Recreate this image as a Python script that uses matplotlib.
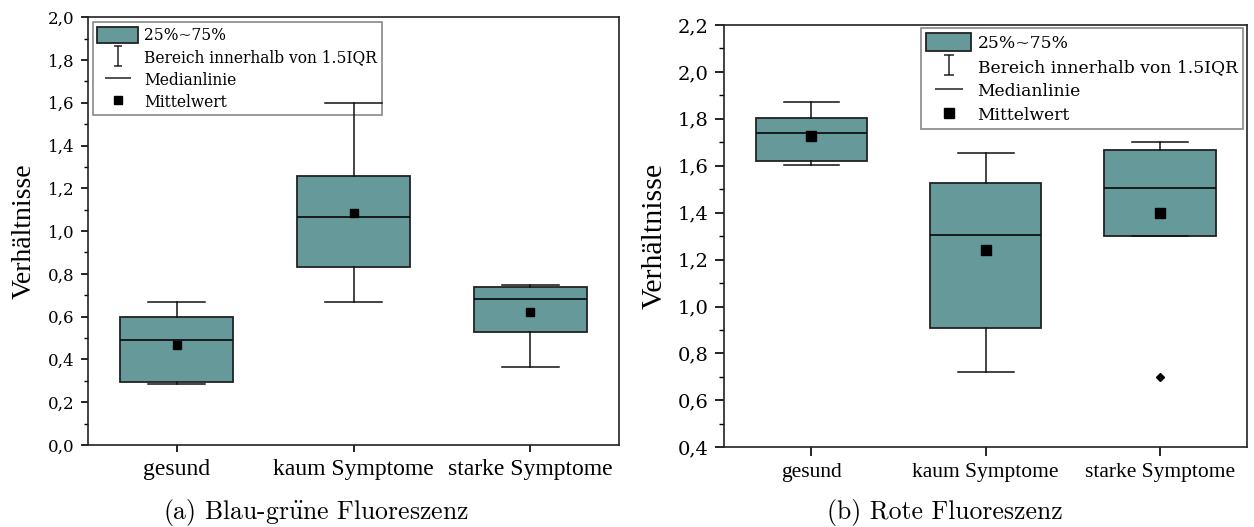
import numpy as np
import matplotlib
matplotlib.use('Agg')
import matplotlib.pyplot as plt
from matplotlib.patches import Patch
from matplotlib.lines import Line2D
from matplotlib.path import Path
from matplotlib.ticker import MultipleLocator, FuncFormatter

plt.rcParams['mathtext.fontset'] = 'cm'

categories = ['gesund', 'kaum Symptome', 'starke Symptome']

# (a) Blau-grüne Fluoreszenz
a_q1 = [0.293, 0.833, 0.528]
a_med = [0.492, 1.067, 0.681]
a_q3 = [0.597, 1.256, 0.740]
a_lo = [0.284, 0.668, 0.363]
a_hi = [0.667, 1.600, 0.746]
a_mean = [0.469, 1.083, 0.623]
a_out = [[], [], []]

# (b) Rote Fluoreszenz
b_q1 = [1.621, 0.909, 1.302]
b_med = [1.739, 1.305, 1.506]
b_q3 = [1.802, 1.527, 1.668]
b_lo = [1.603, 0.723, 1.302]
b_hi = [1.870, 1.655, 1.700]
b_mean = [1.728, 1.239, 1.397]
b_out = [[], [], [0.699]]

box_color = '#669999'
tick_font = 'DejaVu Serif'
label_font = 'Liberation Serif'
cap_font = ['cmr10', 'DejaVu Serif']

# legend symbols drawn as open marker paths
I_MARK = Path([(0, -1), (0, 1), (-0.45, 1), (0.45, 1), (-0.45, -1), (0.45, -1)],
              [Path.MOVETO, Path.LINETO, Path.MOVETO, Path.LINETO, Path.MOVETO, Path.LINETO])
DASH_MARK = Path([(-1, 0), (1, 0)], [Path.MOVETO, Path.LINETO])


def make_stats(q1, med, q3, lo, hi, mean, out):
    stats = []
    for i in range(len(q1)):
        stats.append(dict(q1=q1[i], med=med[i], q3=q3[i], whislo=lo[i],
                          whishi=hi[i], mean=mean[i], fliers=np.array(out[i])))
    return stats


def draw_panel(ax, stats, ylim, tick_fs, cat_fs, ylab_fs, leg_fs, msize,
               ticklen, legend_anchor, legend_loc, ylab_x, sym):
    ax.bxp(stats, positions=[1, 2, 3], widths=0.64, capwidths=0.32,
           patch_artist=True, showmeans=True,
           boxprops=dict(facecolor=box_color, edgecolor='#222222', linewidth=1.3),
           medianprops=dict(color='#111111', linewidth=1.3),
           whiskerprops=dict(color='#111111', linewidth=1.1),
           capprops=dict(color='#111111', linewidth=1.1),
           meanprops=dict(marker='s', markerfacecolor='black', markeredgecolor='black',
                          markersize=msize),
           flierprops=dict(marker='D', markerfacecolor='black', markeredgecolor='black',
                           markersize=4))
    ax.set_xlim(0.5, 3.5)
    ax.set_ylim(*ylim)
    ax.set_xticks([1, 2, 3])
    ax.set_xticklabels(categories, fontsize=cat_fs, family=label_font)
    ax.yaxis.set_major_locator(MultipleLocator(0.2))
    ax.yaxis.set_minor_locator(MultipleLocator(0.1))
    ax.yaxis.set_major_formatter(FuncFormatter(lambda v, p: f'{v:.1f}'.replace('.', ',')))
    for lab in ax.get_yticklabels():
        lab.set_family(tick_font)
        lab.set_fontsize(tick_fs)
    ax.tick_params(axis='both', which='major', direction='out', length=ticklen,
                   width=1.2, pad=5)
    ax.tick_params(axis='y', which='minor', direction='out', length=ticklen * 0.55,
                   width=1.0)
    ax.tick_params(axis='x', which='minor', bottom=False)
    for s in ax.spines.values():
        s.set_linewidth(1.2)
        s.set_color('#222222')
    ax.set_ylabel('Verhältnisse', fontsize=ylab_fs, family=label_font)
    ax.yaxis.set_label_coords(ylab_x, 0.5)

    handles = [Patch(facecolor=box_color, edgecolor='#222222', linewidth=1.3),
               Line2D([], [], ls='none', marker=I_MARK, markersize=sym,
                      markerfacecolor='none', markeredgecolor='#222222', markeredgewidth=1.1),
               Line2D([], [], ls='none', marker=DASH_MARK, markersize=sym * 1.3,
                      markerfacecolor='none', markeredgecolor='#222222', markeredgewidth=1.1),
               Line2D([], [], ls='none', marker='s', color='black', markersize=msize)]
    labels = ['25%~75%', 'Bereich innerhalb von 1.5IQR', 'Medianlinie', 'Mittelwert']
    leg = ax.legend(handles, labels, loc=legend_loc, bbox_to_anchor=legend_anchor,
                    borderaxespad=0, fancybox=False, framealpha=1,
                    edgecolor='#888888', handlelength=2.6, handleheight=1.2,
                    handletextpad=0.4, labelspacing=0.32, borderpad=0.3,
                    prop=dict(family=tick_font, size=leg_fs))
    leg.get_frame().set_linewidth(1.2)
    leg.set_zorder(1)  # boxes and whiskers stay on top of the legend


fig = plt.figure(figsize=(12.54, 5.27), dpi=100)

ax1 = fig.add_axes([0.0702, 0.1556, 0.4234, 0.8118])
draw_panel(ax1, make_stats(a_q1, a_med, a_q3, a_lo, a_hi, a_mean, a_out),
           (0.0, 2.0), 12, 17, 20, 11.2, 5.5, 5, (0.009, 0.988), 'upper left', -0.096, 14)

ax2 = fig.add_axes([0.5776, 0.1512, 0.4168, 0.8014])
draw_panel(ax2, make_stats(b_q1, b_med, b_q3, b_lo, b_hi, b_mean, b_out),
           (0.4, 2.2), 14, 15.5, 21.5, 12.3, 7, 6.5, (0.992, 0.992), 'upper right', -0.108, 15)

fig.text(316 / 1254, 1 - 513 / 527, r'(a) Blau-gr$\ddot{\mathrm{u}}$ne Fluoreszenz',
         ha='center', va='center', fontsize=18.5, family=cap_font)
fig.text(945 / 1254, 1 - 513 / 527, '(b) Rote Fluoreszenz', ha='center',
         va='center', fontsize=18.5, family=cap_font)

fig.savefig('out.png', dpi=100)
